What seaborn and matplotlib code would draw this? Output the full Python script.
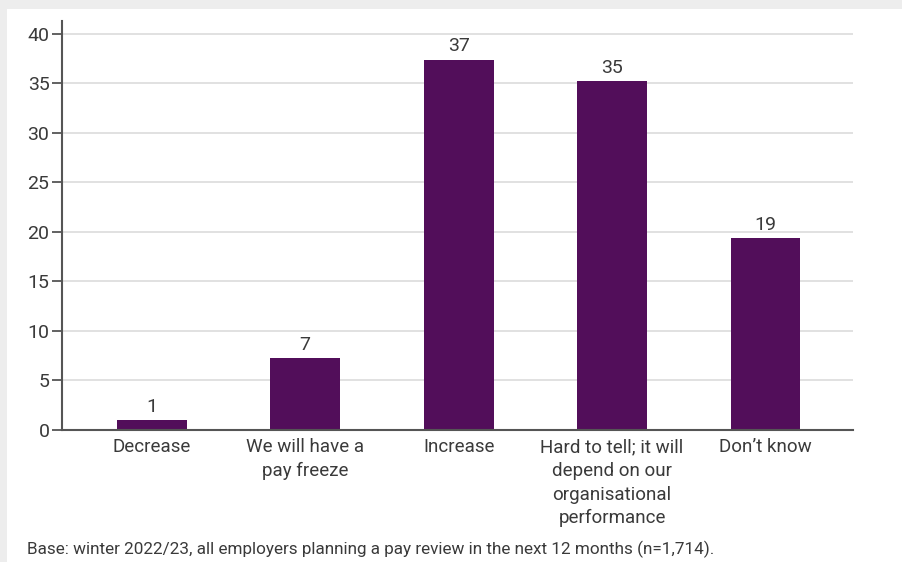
import matplotlib
matplotlib.use("Agg")
import matplotlib.pyplot as plt
import seaborn as sns
import pandas as pd
from matplotlib.patches import Rectangle

categories = [
    "Decrease",
    "We will have a\npay freeze",
    "Increase",
    "Hard to tell; it will\ndepend on our\norganisational\nperformance",
    "Don\u2019t know",
]
values = [1.0, 7.3, 37.4, 35.2, 19.4]
y_ticks = [0, 5, 10, 15, 20, 25, 30, 35, 40]
footnote = "Base: winter 2022/23, all employers planning a pay review in the next 12 months (n=1,714)."

df = pd.DataFrame({"category": categories, "value": values})

sns.set_theme(style="white")
plt.rcParams["font.family"] = ["Roboto", "DejaVu Sans"]

text_col = "#3a3a3a"
bar_col = "#520e5a"

fig = plt.figure(figsize=(9.03, 5.62), dpi=100)
fig.patch.set_facecolor("#ededed")
# white card inside a light grey frame
fig.add_artist(Rectangle((7 / 903, 0), 1, 1 - 9 / 562, transform=fig.transFigure,
                         facecolor="white", edgecolor="none", zorder=0))

ax = fig.add_axes([62 / 903, 1 - 430 / 562, (853 - 62) / 903, (430 - 21) / 562])
ax.set_facecolor("none")

sns.barplot(data=df, x="category", y="value", color=bar_col, width=0.455,
            saturation=1, linewidth=0, ax=ax, zorder=3)

ax.set_xlim(-0.585, 4.57)
ax.set_ylim(0, 41.3)
ax.set_yticks(y_ticks)
ax.yaxis.grid(True, color="#dcdcdc", linewidth=1.2, zorder=0)
ax.set_xlabel("")
ax.set_ylabel("")

for s in ["top", "right"]:
    ax.spines[s].set_visible(False)
ax.spines["left"].set_color("#555555")
ax.spines["left"].set_linewidth(1.5)
ax.spines["bottom"].set_color("#555555")
ax.spines["bottom"].set_linewidth(1.5)
ax.spines["bottom"].set_zorder(4)

ax.tick_params(axis="y", direction="out", length=7, width=1.3, color="#555555",
               labelsize=14, labelcolor=text_col, pad=2, left=True)
ax.tick_params(axis="x", length=0, labelsize=13.5, labelcolor=text_col, pad=6)
for lbl in ax.get_xticklabels():
    lbl.set_linespacing(1.4)

ax.bar_label(ax.containers[0], fmt="%.0f", padding=3, fontsize=14, color=text_col)

fig.text(27 / 903, 1 - 549 / 562, footnote, fontsize=12.3, color=text_col,
         ha="left", va="center")

fig.savefig("out.png", dpi=100, facecolor=fig.get_facecolor())
